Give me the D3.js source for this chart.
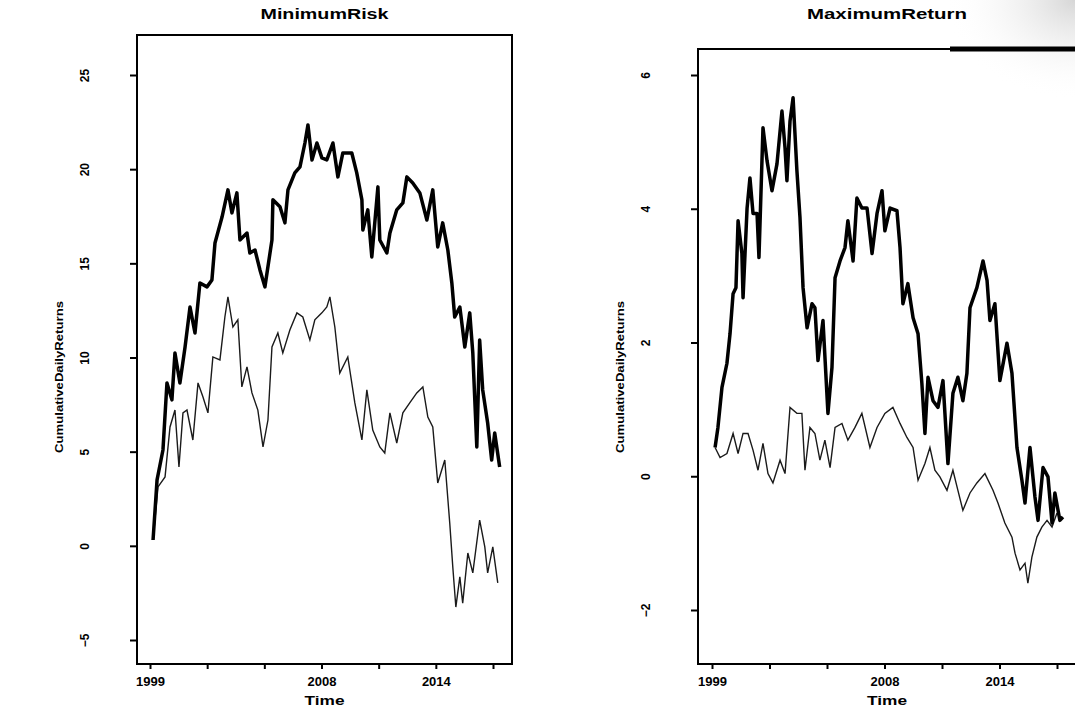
<!DOCTYPE html>
<html>
<head>
<meta charset="utf-8">
<script src="https://cdn.jsdelivr.net/npm/d3@7/dist/d3.min.js"></script>
<style>
  body { margin: 0; background: #fff; }
  text { font-family: "Liberation Sans", Arial, sans-serif; font-weight: bold; fill: #000; }
</style>
</head>
<body>
<script>
// x axis: tick years, only some labels survived on the print
const xTicks = [1999, 2002, 2005, 2008, 2011, 2014, 2017];
const xLabels = {1999: "1999", 2008: "2008", 2014: "2014"};

// y axis ticks
const riskTicks = [-5, 0, 5, 10, 15, 20, 25];
const retTicks = [-2, 0, 2, 4, 6];

// MinimumRisk, thick line
const riskTime1 = [1999.16, 1999.37, 1999.68, 1999.89, 2000.15, 2000.31, 2000.57, 2000.84, 2001.10, 2001.36,
  2001.62, 2001.99, 2002.25, 2002.41, 2002.78, 2003.09, 2003.30, 2003.56, 2003.72, 2004.09,
  2004.24, 2004.51, 2004.77, 2005.03, 2005.40, 2005.45, 2005.82, 2006.08, 2006.24, 2006.60,
  2006.87, 2007.13, 2007.29, 2007.50, 2007.76, 2008.02, 2008.28, 2008.60, 2008.86, 2009.12,
  2009.59, 2009.85, 2010.12, 2010.17, 2010.43, 2010.64, 2010.96, 2011.06, 2011.43, 2011.59,
  2011.95, 2012.27, 2012.48, 2012.79, 2013.16, 2013.53, 2013.84, 2014.10, 2014.36, 2014.63,
  2014.84, 2014.99, 2015.26, 2015.52, 2015.78, 2015.94, 2016.15, 2016.30, 2016.46, 2016.72,
  2016.93, 2017.09, 2017.35];
const riskVal1 = [0.31, 3.50, 5.09, 8.65, 7.75, 10.24, 8.65, 10.56, 12.68, 11.30,
  13.96, 13.75, 14.12, 16.08, 17.46, 18.90, 17.68, 18.74, 16.24, 16.61,
  15.55, 15.71, 14.65, 13.75, 16.24, 18.37, 18.00, 17.15, 18.90, 19.80,
  20.12, 21.39, 22.35, 20.49, 21.39, 20.60, 20.49, 21.39, 19.59, 20.86,
  20.86, 19.80, 18.37, 16.77, 17.84, 15.34, 19.06, 16.24, 15.55, 16.61,
  17.84, 18.21, 19.59, 19.27, 18.74, 17.30, 18.90, 15.87, 17.15, 15.71,
  13.96, 12.15, 12.68, 10.56, 12.37, 10.24, 5.25, 10.93, 8.28, 6.52,
  4.56, 5.99, 4.19];

// MinimumRisk, thin line
const riskTime2 = [1999.16, 1999.42, 1999.79, 2000.05, 2000.31, 2000.52, 2000.73, 2000.94, 2001.25, 2001.52,
  2001.78, 2002.04, 2002.30, 2002.67, 2002.93, 2003.09, 2003.35, 2003.61, 2003.82, 2004.09,
  2004.35, 2004.66, 2004.93, 2005.19, 2005.40, 2005.71, 2005.97, 2006.34, 2006.71, 2007.02,
  2007.39, 2007.65, 2008.02, 2008.28, 2008.44, 2008.70, 2008.96, 2009.38, 2009.75, 2010.12,
  2010.38, 2010.69, 2011.06, 2011.32, 2011.59, 2011.95, 2012.27, 2012.63, 2013.00, 2013.32,
  2013.58, 2013.84, 2014.10, 2014.47, 2014.73, 2014.89, 2015.05, 2015.26, 2015.41, 2015.68,
  2015.94, 2016.30, 2016.57, 2016.72, 2016.99, 2017.25];
const riskVal2 = [0.31, 3.13, 3.66, 6.31, 7.21, 4.19, 7.06, 7.21, 5.62, 8.65,
  7.90, 7.06, 10.03, 9.87, 12.15, 13.22, 11.62, 12.00, 8.44, 9.50,
  8.12, 7.21, 5.25, 6.68, 10.56, 11.30, 10.24, 11.46, 12.37, 12.15,
  10.93, 12.00, 12.37, 12.68, 13.22, 11.62, 9.18, 10.03, 7.59, 5.62,
  8.28, 6.15, 5.25, 4.93, 7.06, 5.46, 7.06, 7.59, 8.12, 8.44,
  6.84, 6.31, 3.34, 4.56, 1.21, -1.12, -3.25, -1.65, -3.04, -0.38,
  -1.44, 1.37, -0.06, -1.44, -0.06, -1.97];

// MaximumReturn, thick line
const retTime1 = [1999.16, 1999.31, 1999.52, 1999.78, 1999.94, 2000.10, 2000.25, 2000.36, 2000.56, 2000.62,
  2000.83, 2000.98, 2001.14, 2001.35, 2001.45, 2001.66, 2001.87, 2002.13, 2002.39, 2002.65,
  2002.81, 2002.91, 2003.07, 2003.23, 2003.43, 2003.59, 2003.75, 2003.96, 2004.22, 2004.37,
  2004.53, 2004.79, 2005.05, 2005.26, 2005.42, 2005.68, 2005.94, 2006.09, 2006.36, 2006.56,
  2006.82, 2007.09, 2007.35, 2007.61, 2007.87, 2008.02, 2008.29, 2008.65, 2008.81, 2008.96,
  2009.22, 2009.49, 2009.75, 2009.95, 2010.11, 2010.27, 2010.53, 2010.79, 2011.05, 2011.31,
  2011.57, 2011.83, 2012.09, 2012.30, 2012.46, 2012.82, 2013.14, 2013.35, 2013.50, 2013.76,
  2014.02, 2014.39, 2014.65, 2014.91, 2015.17, 2015.33, 2015.59, 2015.85, 2016.01, 2016.27,
  2016.53, 2016.74, 2016.89, 2017.15, 2017.31];
const retVal1 = [0.43, 0.73, 1.33, 1.69, 2.13, 2.73, 2.82, 3.82, 3.33, 2.67,
  4.01, 4.46, 3.93, 3.93, 3.27, 5.21, 4.72, 4.27, 4.67, 5.46,
  4.91, 4.42, 5.31, 5.66, 4.57, 3.87, 2.82, 2.22, 2.58, 2.52,
  1.73, 2.33, 0.94, 1.63, 2.97, 3.22, 3.42, 3.82, 3.22, 4.16,
  4.01, 4.01, 3.33, 3.93, 4.27, 3.67, 4.01, 3.97, 3.42, 2.58,
  2.88, 2.37, 2.13, 1.39, 0.64, 1.48, 1.13, 1.03, 1.43, 0.19,
  1.24, 1.48, 1.13, 1.54, 2.52, 2.82, 3.22, 2.93, 2.33, 2.58,
  1.43, 1.99, 1.54, 0.43, -0.06, -0.40, 0.43, -0.31, -0.66, 0.13,
  -0.01, -0.70, -0.25, -0.66, -0.61];

// MaximumReturn, thin line
const retTime2 = [1999.16, 1999.42, 1999.78, 2000.10, 2000.36, 2000.62, 2000.88, 2001.14, 2001.40, 2001.66,
  2001.92, 2002.18, 2002.55, 2002.81, 2003.07, 2003.43, 2003.69, 2003.85, 2004.11, 2004.37,
  2004.63, 2004.89, 2005.16, 2005.42, 2005.78, 2006.09, 2006.46, 2006.82, 2007.24, 2007.61,
  2008.02, 2008.44, 2008.81, 2009.17, 2009.49, 2009.75, 2010.11, 2010.37, 2010.63, 2010.89,
  2011.26, 2011.57, 2011.83, 2012.09, 2012.46, 2012.82, 2013.24, 2013.66, 2013.92, 2014.28,
  2014.65, 2014.81, 2015.07, 2015.33, 2015.48, 2015.69, 2015.95, 2016.21, 2016.48, 2016.74,
  2017.00];
const retVal2 = [0.43, 0.28, 0.34, 0.64, 0.34, 0.64, 0.64, 0.39, 0.09, 0.49,
  0.04, -0.10, 0.24, 0.04, 1.03, 0.94, 0.94, 0.09, 0.73, 0.64,
  0.24, 0.54, 0.13, 0.73, 0.79, 0.54, 0.73, 0.94, 0.43, 0.73,
  0.94, 1.03, 0.79, 0.58, 0.43, -0.06, 0.19, 0.43, 0.09, -0.01,
  -0.21, 0.09, -0.21, -0.51, -0.25, -0.10, 0.04, -0.21, -0.40, -0.70,
  -0.91, -1.15, -1.40, -1.30, -1.60, -1.21, -0.91, -0.76, -0.66, -0.76,
  -0.55];

const width = 1075, height = 721;

const svg = d3.select("body")
  .append("svg")
    .attr("width", width)
    .attr("height", height);

// faint scanner smudge in the top right corner
const grad = svg.append("defs").append("radialGradient")
    .attr("id", "smudge").attr("cx", "100%").attr("cy", "0%").attr("r", "100%");
grad.append("stop").attr("offset", "0%").attr("stop-color", "#999").attr("stop-opacity", 0.4);
grad.append("stop").attr("offset", "100%").attr("stop-color", "#fff").attr("stop-opacity", 0);
svg.append("rect")
    .attr("x", 945).attr("y", 0).attr("width", 130).attr("height", 100)
    .attr("fill", "url(#smudge)");

const panels = [
  {
    title: "MinimumRisk", titleLen: 128,
    box: {left: 137, right: 512, top: 35, bottom: 664},
    xRange: [150, 493],
    yDomain: [-5, 25], yRange: [640, 75], yTicks: riskTicks,
    thick: d3.zip(riskTime1, riskVal1),
    thin: d3.zip(riskTime2, riskVal2)
  },
  {
    title: "MaximumReturn", titleLen: 160,
    box: {left: 698, right: 1076, top: 49, bottom: 664},
    xRange: [712, 1057],
    yDomain: [-2, 6], yRange: [610, 75], yTicks: retTicks,
    thick: d3.zip(retTime1, retVal1),
    thin: d3.zip(retTime2, retVal2)
  }
];

panels.forEach(function(p) {
  const b = p.box;
  const x = d3.scaleLinear().domain([1999, 2017]).range(p.xRange);
  const y = d3.scaleLinear().domain(p.yDomain).range(p.yRange);
  const g = svg.append("g");

  // X axis, ticks hang below the box
  const xAxis = g.append("g")
      .attr("transform", "translate(0," + b.bottom + ")")
      .call(d3.axisBottom(x).tickValues(xTicks).tickSize(5).tickPadding(8)
        .tickFormat(d => xLabels[d] || ""));
  xAxis.select(".domain").remove();
  xAxis.selectAll("line").attr("stroke-width", 2);
  xAxis.selectAll("text").style("font-size", "13px").style("font-family", null);

  // Y axis, labels turned parallel to the axis like R does
  const yAxis = g.append("g")
      .attr("transform", "translate(" + b.left + ",0)")
      .call(d3.axisLeft(y).tickValues(p.yTicks).tickSize(7).tickFormat(d3.format("d")));
  yAxis.select(".domain").remove();
  yAxis.selectAll("line").attr("stroke-width", 2);
  yAxis.selectAll("text")
      .attr("x", null).attr("dy", null)
      .attr("text-anchor", "middle")
      .attr("transform", "translate(-48,0) rotate(-90)")
      .style("font-size", "12px").style("font-family", null);

  // plot frame
  g.append("rect")
      .attr("x", b.left).attr("y", b.top)
      .attr("width", b.right - b.left).attr("height", b.bottom - b.top)
      .attr("fill", "none").attr("stroke", "#000").attr("stroke-width", 2);

  const line = d3.line().x(d => x(d[0])).y(d => y(d[1]));

  g.append("path")
      .datum(p.thin)
      .attr("d", line)
      .attr("fill", "none").attr("stroke", "#1a1a1a").attr("stroke-width", 1.4);

  g.append("path")
      .datum(p.thick)
      .attr("d", line)
      .attr("fill", "none").attr("stroke", "#000").attr("stroke-width", 3.5)
      .attr("stroke-linejoin", "round");

  // title and axis labels
  const cx = (b.left + b.right) / 2;
  g.append("text")
      .attr("x", cx).attr("y", 19)
      .attr("text-anchor", "middle")
      .attr("textLength", p.titleLen).attr("lengthAdjust", "spacingAndGlyphs")
      .style("font-size", "14px")
      .text(p.title);

  g.append("text")
      .attr("x", cx).attr("y", 705)
      .attr("text-anchor", "middle")
      .attr("textLength", 40).attr("lengthAdjust", "spacingAndGlyphs")
      .style("font-size", "13px")
      .text("Time");

  g.append("text")
      .attr("transform", "translate(" + (b.left - 74) + ",377) rotate(-90)")
      .attr("text-anchor", "middle")
      .attr("textLength", 152).attr("lengthAdjust", "spacingAndGlyphs")
      .style("font-size", "11px")
      .text("CumulativeDailyReturns");
});

// the print left a heavy stroke along the right panel's top edge
svg.append("line")
    .attr("x1", 950).attr("x2", 1075).attr("y1", 49).attr("y2", 49)
    .attr("stroke", "#000").attr("stroke-width", 5);
</script>
</body>
</html>
